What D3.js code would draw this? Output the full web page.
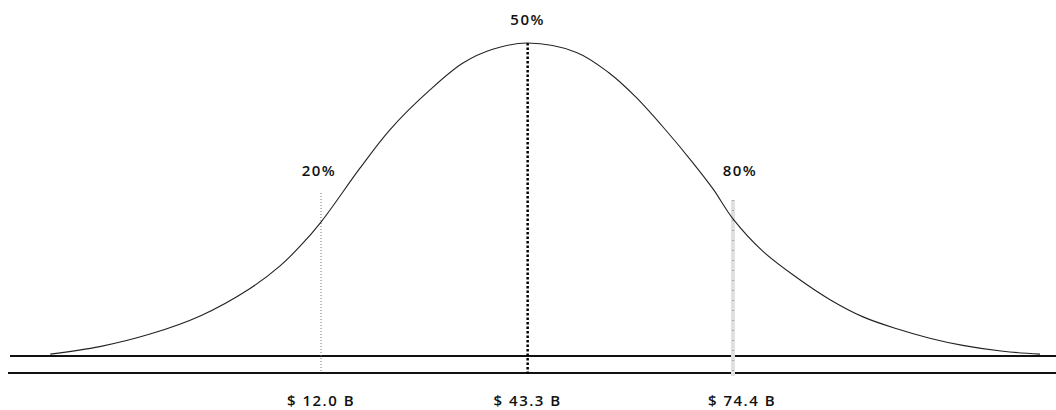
<!DOCTYPE html>
<html>
<head>
<meta charset="utf-8">
<script src="https://cdn.jsdelivr.net/npm/d3@7"></script>
<style>
  html, body { margin: 0; padding: 0; background: #fff; }
  svg { display: block; }
  text { font-family: "Open Sans", "DejaVu Sans", sans-serif; fill: #111; }
</style>
</head>
<body>
<svg id="chart" width="1056" height="410"></svg>
<script>
// Distribution outline: value in $B and relative height (peak = 1)
const curveValues  = [-29.0, -21.5, -13.9, -6.3, 1.2, 5.8, 8.8, 12.0, 17.9, 22.4, 28.5, 33.5, 38.0, 43.3,
                      50.7, 55.6, 59.7, 64.2, 68.3, 71.4, 74.4, 78.9, 84.1, 89.1, 94.1, 99.2, 104.2, 109.2, 115.3, 120.9];
const curveHeights = [0.006, 0.030, 0.070, 0.128, 0.215, 0.288, 0.350, 0.428, 0.600, 0.722, 0.850, 0.936, 0.980, 1.0,
                      0.970, 0.905, 0.827, 0.722, 0.618, 0.533, 0.438, 0.335, 0.250, 0.180, 0.125, 0.087, 0.057, 0.034, 0.015, 0.006];

// Percentile markers
const percentileLabels = ["20%", "50%", "80%"];
const percentileValues = [12.0, 43.3, 74.4];
const valueLabels      = ["$ 12.0 B", "$ 43.3 B", "$ 74.4 B"];

const W = 1056, H = 410;
const svg = d3.select("#chart");

const x = d3.scaleLinear().domain([12.0, 74.4]).range([321, 733]);
const y = d3.scaleLinear().domain([0, 1]).range([356, 43]);
const baseY = y(0);
const lowerY = baseY + 17;

// Two horizontal rules
svg.append("line")
  .attr("x1", 10).attr("x2", W).attr("y1", baseY).attr("y2", baseY)
  .attr("stroke", "#111").attr("stroke-width", 2);
svg.append("line")
  .attr("x1", 8).attr("x2", W).attr("y1", lowerY).attr("y2", lowerY)
  .attr("stroke", "#111").attr("stroke-width", 2);

// Percentile lines
const pts = percentileValues.map((v, i) => ({ v, i, h: curveHeights[curveValues.indexOf(v)] }));

// 20% : thin dotted grey
svg.append("line")
  .attr("x1", x(pts[0].v)).attr("x2", x(pts[0].v))
  .attr("y1", 193).attr("y2", lowerY)
  .attr("stroke", "#777").attr("stroke-width", 1).attr("stroke-dasharray", "1,2");

// 50% : heavy black dotted
svg.append("line")
  .attr("x1", x(pts[1].v)).attr("x2", x(pts[1].v))
  .attr("y1", y(pts[1].h)).attr("y2", lowerY + 3)
  .attr("stroke", "#000").attr("stroke-width", 2.5).attr("stroke-dasharray", "2.5,2");

// 80% : pale band with sparse dots
svg.append("line")
  .attr("x1", x(pts[2].v)).attr("x2", x(pts[2].v))
  .attr("y1", 200).attr("y2", lowerY + 3)
  .attr("stroke", "#e0e0e0").attr("stroke-width", 4);
svg.append("line")
  .attr("x1", x(pts[2].v)).attr("x2", x(pts[2].v))
  .attr("y1", 200).attr("y2", lowerY + 3)
  .attr("stroke", "#777").attr("stroke-width", 1).attr("stroke-dasharray", "1,9");

// Bell curve
const line = d3.line()
  .x((d, i) => x(curveValues[i]))
  .y(d => y(d))
  .curve(d3.curveCatmullRom.alpha(0.5));
svg.append("path")
  .datum(curveHeights)
  .attr("d", line)
  .attr("fill", "none")
  .attr("stroke", "#222")
  .attr("stroke-width", 1.1);

// Percent labels
const shift = [ -2, 0, 7 ];
svg.selectAll("text.pct")
  .data(percentileLabels)
  .join("text")
  .attr("class", "pct")
  .attr("x", (d, i) => x(percentileValues[i]) + shift[i])
  .attr("y", (d, i) => i === 1 ? 25 : 176)
  .attr("text-anchor", "middle")
  .style("font-size", "15px")
  .style("font-weight", 600)
  .style("letter-spacing", "1.5px")
  .text(d => d);

// Value labels under the axis
const vshift = [ 0, 0, 9 ];
svg.selectAll("text.val")
  .data(valueLabels)
  .join("text")
  .attr("class", "val")
  .attr("x", (d, i) => x(percentileValues[i]) + vshift[i])
  .attr("y", 406)
  .attr("text-anchor", "middle")
  .style("font-size", "15px")
  .style("font-weight", 600)
  .style("letter-spacing", "1.5px")
  .text(d => d);
</script>
</body>
</html>
